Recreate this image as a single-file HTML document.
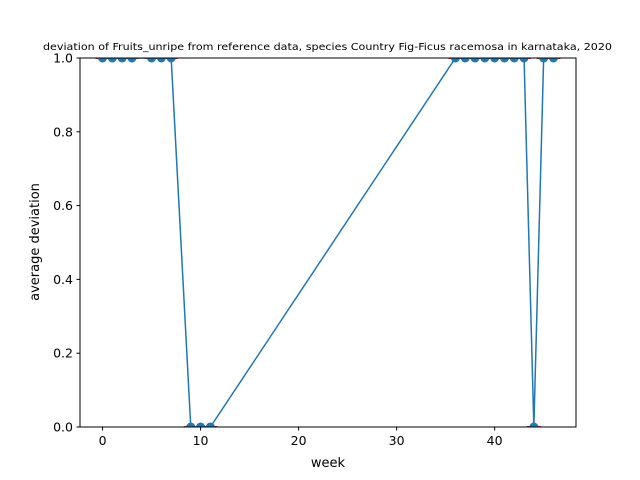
<!DOCTYPE html>
<html><head><meta charset="utf-8"><style>body{margin:0;background:#fff}svg{display:block}text{font-family:"DejaVu Sans","Liberation Sans",sans-serif}</style></head>
<body>
<svg id="c" width="640" height="480">
<rect x="80" y="58" width="496" height="369" fill="#fff"/>
<defs><clipPath id="cp"><rect x="80" y="58" width="496" height="369"/></clipPath></defs>
<g id="marks" clip-path="url(#cp)"></g>
<rect x="80" y="58" width="496" height="369" fill="none" stroke="#000" stroke-width="1"/>
<g id="ax"></g>
<text x="327.5" y="50" font-size="9.6" text-anchor="middle" textLength="569" lengthAdjust="spacingAndGlyphs">deviation of Fruits_unripe from reference data, species Country Fig-Ficus racemosa in karnataka, 2020</text>
<text x="328" y="467" font-size="13" text-anchor="middle">week</text>
<text x="39" y="242" font-size="13" text-anchor="middle" transform="rotate(-90 39 242)">average deviation</text>
</svg>
<script>
const weeks=[0,1,2,3,5,6,7,9,10,11,36,37,38,39,40,41,42,43,44,45,46];
const devs=[1,1,1,1,1,1,1,0,0,0,1,1,1,1,1,1,1,1,0,1,1];
const xTicks=[0,10,20,30,40];
const yTicks=[0,0.2,0.4,0.6,0.8,1.0];
const xMin=-2.3,xMax=48.3;
const X=v=>80+(v-xMin)/(xMax-xMin)*496;
const Y=v=>427-v*369;
const NS="http://www.w3.org/2000/svg";
const m=document.getElementById('marks'),ax=document.getElementById('ax');
function mk(t,a,p){const e=document.createElementNS(NS,t);for(const k in a)e.setAttribute(k,a[k]);p.appendChild(e);return e;}
weeks.forEach((w,i)=>{
 const r=mk('line',{x1:X(w)-7,x2:X(w)+7,y1:Y(devs[i]),y2:Y(devs[i]),stroke:'#d62728','stroke-width':2},m);
 
 
});
const pl=mk('polyline',{points:weeks.map((w,i)=>X(w)+','+Y(devs[i])).join(' '),fill:'none',stroke:'#1f77b4','stroke-width':1.5},m);


weeks.forEach((w,i)=>{
 const c=mk('circle',{cx:X(w),cy:Y(devs[i]),r:4.5,fill:'#1f77b4'},m);
 
 
});
xTicks.forEach(t=>{
 const l=mk('line',{x1:X(t),x2:X(t),y1:427,y2:430.5,stroke:'#000'},ax);
 
 
 const tx=mk('text',{x:X(t),y:445,'font-size':12.5,'text-anchor':'middle'},ax);tx.textContent=t;
 
 
});
yTicks.forEach(t=>{
 const l=mk('line',{x1:76.5,x2:80,y1:Y(t),y2:Y(t),stroke:'#000'},ax);
 
 
 const tx=mk('text',{x:73,y:Y(t)+4.5,'font-size':12.5,'text-anchor':'end'},ax);tx.textContent=t.toFixed(1);
 
 
});
</script>
</body></html>
